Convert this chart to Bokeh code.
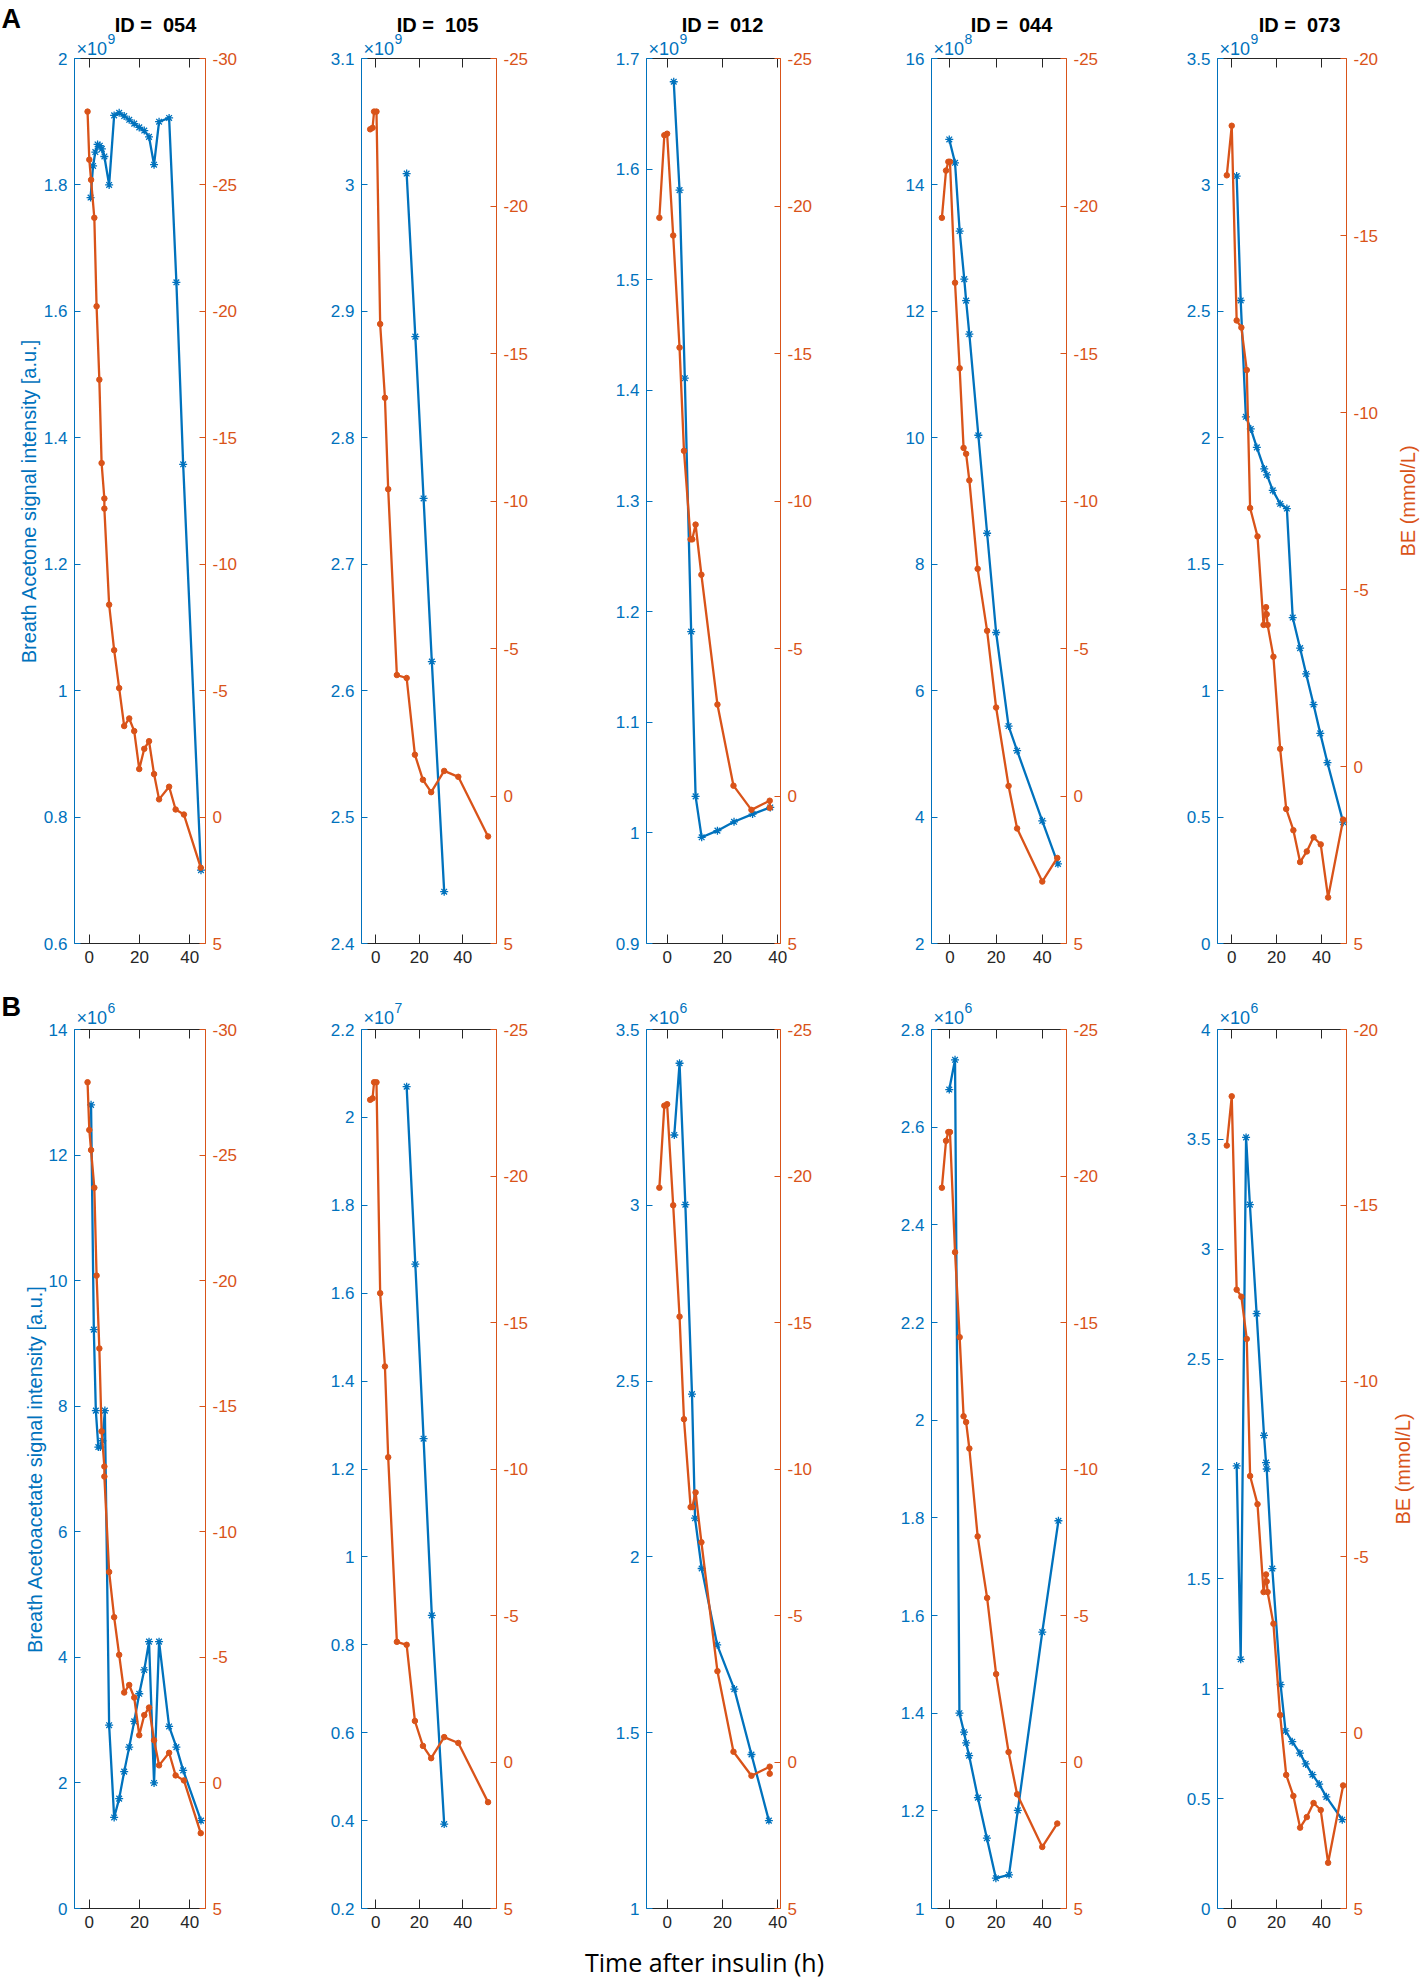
from bokeh.plotting import figure
from bokeh.models import Range1d, LinearAxis, FixedTicker, Label
from bokeh.embed import file_html
from bokeh.resources import INLINE

# ------------------------------------------------------------------ data
ids = ["054", "105", "012", "044", "073"]

# ID 054
t_acetone_054 = [0.5, 1.5, 2.4, 3.3, 4.2, 5.0, 6.0, 7.9, 9.9, 11.9, 13.9, 15.9, 17.9, 19.9, 21.9, 23.8, 25.8, 27.8, 31.8, 34.7, 37.4, 44.5]
acetone_054 = [1.78, 1.83, 1.852, 1.864, 1.862, 1.857, 1.845, 1.80, 1.910, 1.914, 1.909, 1.903, 1.897, 1.891, 1.886, 1.876, 1.832, 1.900, 1.906, 1.646, 1.358, 0.716]
t_acac_054 = [0.7, 1.8, 2.6, 3.6, 4.4, 5.2, 6.2, 7.9, 9.9, 11.9, 13.9, 15.9, 17.9, 19.9, 21.9, 23.8, 25.8, 27.8, 31.8, 34.7, 37.4, 44.5]
acac_054 = [12.8, 9.22, 7.93, 7.35, 7.35, 7.45, 7.93, 2.92, 1.45, 1.75, 2.18, 2.57, 2.98, 3.42, 3.80, 4.25, 2.0, 4.25, 2.9, 2.57, 2.2, 1.4]
t_be_054 = [-0.7, 0.0, 0.7, 2.0, 2.9, 4.0, 4.9, 6.0, 6.0, 7.9, 9.9, 11.9, 13.9, 15.9, 17.9, 19.9, 21.9, 23.8, 25.8, 27.8, 31.8, 34.4, 37.7, 44.4]
be_054 = [-27.9, -26.0, -25.2, -23.7, -20.2, -17.3, -14.0, -12.6, -12.2, -8.4, -6.6, -5.1, -3.6, -3.9, -3.4, -1.9, -2.7, -3.0, -1.7, -0.7, -1.2, -0.3, -0.1, 2.0]

# ID 105
t_acetone_105 = [14.2, 18.2, 22.0, 25.8, 31.5]
acetone_105 = [3.009, 2.880, 2.752, 2.623, 2.441]
t_acac_105 = [14.2, 18.2, 22.0, 25.8, 31.5]
acac_105 = [2.07, 1.666, 1.269, 0.867, 0.392]
t_be_105 = [-2.6, -1.5, -0.8, 0.3, 2.0, 4.2, 5.7, 9.7, 14.2, 18.0, 21.7, 25.5, 31.5, 38.0, 51.7]
be_105 = [-22.6, -22.65, -23.2, -23.2, -16.0, -13.5, -10.4, -4.1, -4.0, -1.4, -0.55, -0.13, -0.85, -0.65, 1.37]

# ID 012
t_acetone_012 = [2.4, 4.5, 6.4, 8.7, 10.3, 12.5, 18.2, 24.2, 30.9, 37.3]
acetone_012 = [1.679, 1.581, 1.411, 1.182, 1.033, 0.996, 1.002, 1.010, 1.017, 1.023]
t_acac_012 = [2.6, 4.5, 6.6, 9.0, 10.1, 12.5, 18.1, 24.3, 30.5, 36.8]
acac_012 = [3.20, 3.404, 3.002, 2.463, 2.11, 1.967, 1.75, 1.624, 1.438, 1.25]
t_be_012 = [-2.8, -1.0, 0.0, 2.2, 4.5, 6.1, 8.5, 9.1, 10.3, 12.4, 18.2, 24.0, 30.5, 37.1, 37.1]
be_012 = [-19.6, -22.4, -22.45, -19.0, -15.2, -11.7, -8.7, -8.7, -9.2, -7.5, -3.1, -0.35, 0.47, 0.16, 0.4]

# ID 044
t_acetone_044 = [-0.3, 2.2, 4.2, 6.2, 7.0, 8.4, 12.3, 16.1, 20.0, 25.4, 29.1, 40.0, 46.8]
acetone_044 = [14.72, 14.35, 13.27, 12.51, 12.17, 11.64, 10.04, 8.49, 6.92, 5.44, 5.05, 3.94, 3.26]
t_acac_044 = [-0.3, 2.2, 4.1, 6.1, 7.0, 8.3, 12.1, 16.0, 19.9, 25.6, 29.4, 40.0, 47.0]
acac_044 = [2.677, 2.738, 1.40, 1.361, 1.339, 1.313, 1.227, 1.144, 1.062, 1.069, 1.201, 1.566, 1.794]
t_be_044 = [-3.5, -1.7, -0.7, 0.0, 2.2, 4.2, 5.9, 7.0, 8.4, 12.0, 16.1, 20.0, 25.4, 29.1, 40.0, 46.5]
be_044 = [-19.6, -21.2, -21.5, -21.5, -17.4, -14.5, -11.8, -11.6, -10.7, -7.7, -5.6, -3.0, -0.34, 1.1, 2.9, 2.1]

# ID 073
t_acetone_073 = [2.2, 4.0, 6.3, 8.5, 11.2, 14.5, 15.7, 18.3, 21.6, 24.6, 27.2, 30.5, 33.2, 36.5, 39.5, 42.7, 49.7]
acetone_073 = [3.035, 2.543, 2.083, 2.035, 1.962, 1.877, 1.853, 1.792, 1.739, 1.72, 1.289, 1.168, 1.066, 0.945, 0.831, 0.715, 0.48]
t_acac_073 = [2.2, 4.0, 6.4, 8.1, 11.1, 14.4, 15.3, 15.6, 18.1, 21.8, 24.0, 27.0, 30.4, 33.0, 36.0, 39.0, 42.2, 49.3]
acac_073 = [2.014, 1.134, 3.509, 3.203, 2.707, 2.153, 2.029, 2.0, 1.547, 1.019, 0.808, 0.759, 0.707, 0.658, 0.609, 0.566, 0.508, 0.404]
t_be_073 = [-2.2, 0.0, 2.2, 4.3, 6.7, 8.2, 11.5, 14.2, 15.3, 15.6, 16.0, 18.6, 21.6, 24.3, 27.5, 30.5, 33.5, 36.5, 39.7, 43.0, 49.7]
be_073 = [-16.7, -18.1, -12.6, -12.4, -11.2, -7.3, -6.5, -4.0, -4.5, -4.3, -4.0, -3.1, -0.5, 1.2, 1.8, 2.7, 2.4, 2.0, 2.2, 3.7, 1.5]

acetone_exp = ["9", "9", "9", "8", "9"]
acac_exp = ["6", "7", "6", "6", "6"]

acetone_tick_labels = [
    ["0.6", "0.8", "1", "1.2", "1.4", "1.6", "1.8", "2"],
    ["2.4", "2.5", "2.6", "2.7", "2.8", "2.9", "3", "3.1"],
    ["0.9", "1", "1.1", "1.2", "1.3", "1.4", "1.5", "1.6", "1.7"],
    ["2", "4", "6", "8", "10", "12", "14", "16"],
    ["0", "0.5", "1", "1.5", "2", "2.5", "3", "3.5"],
]
acac_tick_labels = [
    ["0", "2", "4", "6", "8", "10", "12", "14"],
    ["0.2", "0.4", "0.6", "0.8", "1", "1.2", "1.4", "1.6", "1.8", "2", "2.2"],
    ["1", "1.5", "2", "2.5", "3", "3.5"],
    ["1", "1.2", "1.4", "1.6", "1.8", "2", "2.2", "2.4", "2.6", "2.8"],
    ["0", "0.5", "1", "1.5", "2", "2.5", "3", "3.5", "4"],
]
be_tick_labels = [
    ["-30", "-25", "-20", "-15", "-10", "-5", "0", "5"],
    ["-25", "-20", "-15", "-10", "-5", "0", "5"],
    ["-25", "-20", "-15", "-10", "-5", "0", "5"],
    ["-25", "-20", "-15", "-10", "-5", "0", "5"],
    ["-20", "-15", "-10", "-5", "0", "5"],
]
time_tick_labels = ["0", "20", "40"]

acetone_t = [t_acetone_054, t_acetone_105, t_acetone_012, t_acetone_044, t_acetone_073]
acetone_v = [acetone_054, acetone_105, acetone_012, acetone_044, acetone_073]
acac_t = [t_acac_054, t_acac_105, t_acac_012, t_acac_044, t_acac_073]
acac_v = [acac_054, acac_105, acac_012, acac_044, acac_073]
be_t = [t_be_054, t_be_105, t_be_012, t_be_044, t_be_073]
be_v = [be_054, be_105, be_012, be_044, be_073]

left_axis_titles = ["Breath Acetone signal intensity [a.u.]", "Breath Acetoacetate signal intensity [a.u.]"]
right_axis_title = "BE (mmol/L)"
x_axis_title = "Time after insulin (h)"
panel_letters = ["A", "B"]

# ------------------------------------------------------------------ layout / style
BLUE = "#0072BD"
ORANGE = "#D95319"
DARK = "#262626"
FONT = "Liberation Sans"

W, H = 1420, 1980                      # page area (page pixels)
FRAME_L = [74, 361, 646, 931, 1217]    # panel box left edges
FRAME_R = [205, 496, 780, 1066, 1346]  # panel box right edges
FRAME_TB = [(58, 943), (1029, 1908)]   # panel box top / bottom per row
XLIM = [(-5.9, 46.3), (-6.6, 55.6), (-7.45, 41.0), (-8.0, 50.5), (-6.35, 51.2)]
TITLE_DX = [81, 76, 76, 80, 82]
YLABEL_DX = [-46, -40]
RLABEL_DX = [61, 56]
LETTER_Y = [18, 1006]
EXP_DY = [(10, 20), (12, 22)]

p = figure(width=W, height=H, x_range=Range1d(0, W), y_range=Range1d(H, 0),
           x_axis_type=None, y_axis_type=None, title=None,
           toolbar_location=None, output_backend="svg",
           min_border=0, min_border_left=0, min_border_right=0,
           min_border_top=0, min_border_bottom=0)
p.outline_line_color = None
p.background_fill_color = "white"
p.border_fill_color = "white"

extra_x = {}
extra_y = {}

common = dict(major_tick_out=0, minor_tick_line_color=None,
              major_label_text_font=FONT, major_label_text_font_size="17px",
              axis_line_width=1)

for r in range(2):
    T, B = FRAME_TB[r]
    for c in range(5):
        L, R = FRAME_L[c], FRAME_R[c]
        lo, hi = XLIM[c]
        if r == 0:
            labels, tt, vv, expo = acetone_tick_labels[c], acetone_t[c], acetone_v[c], acetone_exp[c]
        else:
            labels, tt, vv, expo = acac_tick_labels[c], acac_t[c], acac_v[c], acac_exp[c]
        lt = [float(s) for s in labels]
        bl = be_tick_labels[c]
        bt = [float(s) for s in bl]
        xt = [float(s) for s in time_tick_labels]

        xr, yl, yr = f"x{r}{c}", f"yl{r}{c}", f"yr{r}{c}"
        sx = (hi - lo) / (R - L)
        extra_x[xr] = Range1d(lo - L * sx, hi + (W - R) * sx)
        sy = (lt[-1] - lt[0]) / (B - T)
        extra_y[yl] = Range1d(lt[0] - (H - B) * sy, lt[-1] + T * sy)
        sb = (bt[-1] - bt[0]) / (B - T)
        extra_y[yr] = Range1d(start=bt[-1] + (H - B) * sb, end=bt[0] - T * sb)

        left = LinearAxis(x_range_name=xr, y_range_name=yl, fixed_location=lo,
                          bounds=(lt[0], lt[-1]), ticker=FixedTicker(ticks=lt),
                          major_label_overrides=dict(zip(lt, labels)),
                          axis_line_color=BLUE, major_tick_line_color=BLUE, major_tick_in=6,
                          major_label_text_color=BLUE, major_label_standoff=7, **common)
        p.add_layout(left, "left")
        right = LinearAxis(x_range_name=xr, y_range_name=yr, fixed_location=hi,
                           bounds=(min(bt), max(bt)), ticker=FixedTicker(ticks=bt),
                           major_label_overrides=dict(zip(bt, bl)),
                           axis_line_color=ORANGE, major_tick_line_color=ORANGE, major_tick_in=6,
                           major_label_text_color=ORANGE, major_label_standoff=7, **common)
        p.add_layout(right, "right")
        bottom = LinearAxis(x_range_name=xr, y_range_name=yl, fixed_location=lt[0],
                            bounds=(lo, hi), ticker=FixedTicker(ticks=xt),
                            major_label_overrides=dict(zip(xt, time_tick_labels)),
                            axis_line_color=DARK, major_tick_line_color=DARK, major_tick_in=9,
                            major_label_text_color=DARK, major_label_standoff=7, **common)
        p.add_layout(bottom, "below")
        top = LinearAxis(x_range_name=xr, y_range_name=yl, fixed_location=lt[-1],
                         bounds=(lo, hi), ticker=FixedTicker(ticks=xt),
                         axis_line_color=DARK, major_tick_line_color=DARK,
                         major_tick_in=9, major_tick_out=0, minor_tick_line_color=None,
                         major_label_text_color=None, major_label_standoff=0)
        p.add_layout(top, "above")

        # series
        p.line(tt, vv, line_color=BLUE, line_width=2.3, x_range_name=xr, y_range_name=yl)
        p.scatter(tt, vv, marker="asterisk", size=8, line_color=BLUE, line_width=1.3,
                  x_range_name=xr, y_range_name=yl)
        p.line(be_t[c], be_v[c], line_color=ORANGE, line_width=2.3, x_range_name=xr, y_range_name=yr)
        p.scatter(be_t[c], be_v[c], marker="circle", size=5.5, line_color=ORANGE,
                  fill_color=ORANGE, x_range_name=xr, y_range_name=yr)

        # exponent
        p.add_layout(Label(x=L + 2, y=T - EXP_DY[r][0], text="\u00d710", text_font=FONT,
                           text_font_size="18px", text_color=BLUE,
                           text_baseline="middle", text_align="left"))
        p.add_layout(Label(x=L + 33, y=T - EXP_DY[r][1], text=expo, text_font=FONT,
                           text_font_size="14px", text_color=BLUE,
                           text_baseline="middle", text_align="left"))

        if r == 0:
            p.add_layout(Label(x=L + TITLE_DX[c], y=T - 34, text="ID = \u00a0" + ids[c],
                               text_font=FONT, text_font_size="20px", text_font_style="bold",
                               text_color="black", text_baseline="middle", text_align="center"))
        if c == 0:
            p.add_layout(Label(x=L + YLABEL_DX[r], y=(T + B) / 2, text=left_axis_titles[r],
                               angle=90, angle_units="deg", text_font=FONT,
                               text_font_size="20px", text_color=BLUE,
                               text_baseline="middle", text_align="center"))
            p.add_layout(Label(x=1, y=LETTER_Y[r], text=panel_letters[r], text_font=FONT,
                               text_font_size="27px", text_font_style="bold", text_color="black",
                               text_baseline="middle", text_align="left"))
        if c == 4:
            p.add_layout(Label(x=R + RLABEL_DX[r], y=(T + B) / 2, text=right_axis_title,
                               angle=90, angle_units="deg", text_font=FONT,
                               text_font_size="20px", text_color=ORANGE,
                               text_baseline="middle", text_align="center"))
        if r == 1 and c == 2:
            p.add_layout(Label(x=704, y=1961, text=x_axis_title, text_font="Open Sans",
                               text_font_size="25px", text_color="black",
                               text_baseline="middle", text_align="center"))

p.extra_x_ranges = extra_x
p.extra_y_ranges = extra_y

open("out.html", "w").write(file_html(p, INLINE))
